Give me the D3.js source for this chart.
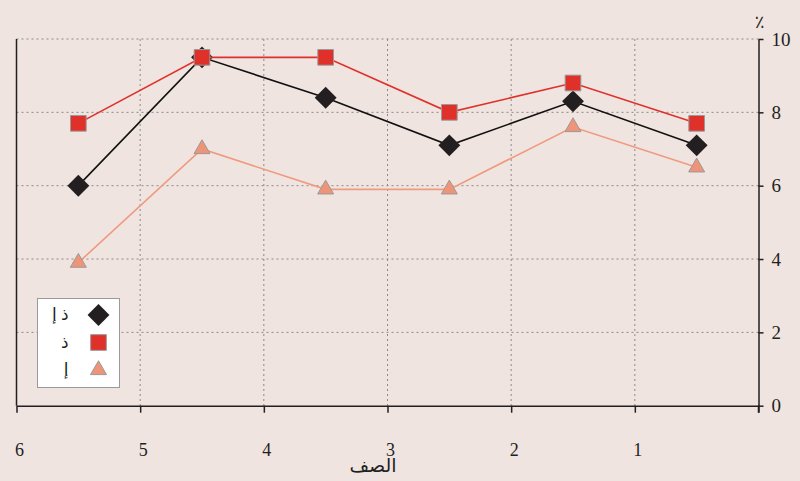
<!DOCTYPE html>
<html>
<head>
<meta charset="utf-8">
<script src="https://cdn.jsdelivr.net/npm/d3@7"></script>
<style>
  body { margin: 0; background: #f0e4e0; }
  svg { display: block; }
  text { font-family: "Liberation Serif", "DejaVu Sans", serif; fill: #231f20; }
</style>
</head>
<body>
<div id="chart"></div>
<script>
// data
var grades = ["6", "5", "4", "3", "2", "1"];
var both = [6.0, 9.5, 8.4, 7.1, 8.3, 7.1];     // ذ إ
var males = [7.7, 9.5, 9.5, 8.0, 8.8, 7.7];    // ذ
var females = [3.9, 7.0, 5.9, 5.9, 7.6, 6.5];  // إ
var yTicks = [0, 2, 4, 6, 8, 10];
var legendLabels = ["ذ إ", "ذ", "إ"];

// dimensions
const W = 800, H = 481;
const plotLeft = 16.5, plotRight = 758.5, plotTop = 39, plotBottom = 405.7;

const svg = d3
  .select("#chart")
  .append("svg")
  .attr("width", W)
  .attr("height", H);

svg.append("rect").attr("width", W).attr("height", H).attr("fill", "#f0e4e0");

const x = d3.scaleBand().domain(grades).range([plotLeft, plotRight]);
const xe = d3.scaleLinear().domain([0, grades.length]).range([plotLeft, plotRight]);
const y = d3.scaleLinear().domain([0, 10]).range([plotBottom, plotTop]);

// grid
svg
  .append("g")
  .selectAll("line")
  .data(yTicks.slice(1))
  .join("line")
  .attr("x1", plotLeft)
  .attr("x2", plotRight)
  .attr("y1", (d) => y(d))
  .attr("y2", (d) => y(d))
  .attr("stroke", "#8a8a8a")
  .attr("stroke-width", 1)
  .attr("stroke-dasharray", "2,3");

svg
  .append("g")
  .selectAll("line")
  .data(d3.range(1, grades.length))
  .join("line")
  .attr("x1", (d) => xe(d))
  .attr("x2", (d) => xe(d))
  .attr("y1", plotTop)
  .attr("y2", plotBottom)
  .attr("stroke", "#8a8a8a")
  .attr("stroke-width", 1)
  .attr("stroke-dasharray", "2,3");

// left border
svg
  .append("line")
  .attr("x1", plotLeft)
  .attr("x2", plotLeft)
  .attr("y1", plotTop)
  .attr("y2", plotBottom)
  .attr("stroke", "#231f20")
  .attr("stroke-width", 1.5);

// bottom axis
const xAxis = svg
  .append("g")
  .attr("transform", `translate(0,${plotBottom})`)
  .call(
    d3.axisBottom(xe)
      .tickValues(d3.range(grades.length + 1))
      .tickFormat("")
      .tickSize(7)
      .tickSizeOuter(0)
  );
xAxis.selectAll("path, line").attr("stroke", "#231f20").attr("stroke-width", 1.5);

svg
  .append("g")
  .selectAll("text")
  .data(grades)
  .join("text")
  .attr("x", (d) => x(d) + 3)
  .attr("y", 456)
  .attr("text-anchor", "middle")
  .attr("font-size", "18px")
  .text((d) => d);

// right axis
const yAxis = svg
  .append("g")
  .attr("transform", `translate(${plotRight},0)`)
  .call(
    d3.axisRight(y)
      .tickValues(yTicks)
      .tickSize(5)
      .tickPadding(8)
      .tickSizeOuter(0)
  );
yAxis.selectAll("path, line").attr("stroke", "#231f20").attr("stroke-width", 1.5);
yAxis
  .selectAll("text")
  .attr("font-family", '"Liberation Serif", serif')
  .attr("font-size", "19px")
  .attr("fill", "#231f20");
svg
  .append("line")
  .attr("x1", plotRight)
  .attr("x2", plotRight)
  .attr("y1", plotBottom)
  .attr("y2", plotBottom + 7)
  .attr("stroke", "#231f20")
  .attr("stroke-width", 1.5);

svg
  .append("text")
  .attr("x", plotRight + 1)
  .attr("y", 28)
  .attr("text-anchor", "middle")
  .attr("font-size", "18px")
  .text("٪");

svg
  .append("text")
  .attr("x", 373)
  .attr("y", 472)
  .attr("text-anchor", "middle")
  .attr("font-size", "19px")
  .text("الصف");

// series
const series = [
  { values: both, line: "#111111", fill: "#231f20", stroke: "none", sym: d3.symbolSquare, size: 240, rot: 45 },
  { values: females, line: "#ef9a7f", fill: "#ee9478", stroke: "#9a9a9a", sym: d3.symbolTriangle, size: 111, rot: 0 },
  { values: males, line: "#e0302a", fill: "#e0302a", stroke: "#9a9a9a", sym: d3.symbolSquare, size: 246, rot: 0 },
];

const line = d3
  .line()
  .x((d, i) => x(grades[i]) + x.bandwidth() / 2)
  .y((d) => y(d));

series.forEach(function (s) {
  svg
    .append("path")
    .datum(s.values)
    .attr("fill", "none")
    .attr("stroke", s.line)
    .attr("stroke-width", 1.6)
    .attr("d", line);

  svg
    .append("g")
    .selectAll("path")
    .data(s.values)
    .join("path")
    .attr("d", d3.symbol().type(s.sym).size(s.size))
    .attr("transform", function (d, i) {
      return `translate(${x(grades[i]) + x.bandwidth() / 2},${y(d)}) rotate(${s.rot})`;
    })
    .attr("fill", s.fill)
    .attr("stroke", s.stroke)
    .attr("stroke-width", 1);
});

// legend
const lg = svg.append("g").attr("transform", "translate(37.5,298.5)");
lg.append("rect")
  .attr("width", 82)
  .attr("height", 89)
  .attr("fill", "#ffffff")
  .attr("stroke", "#9a9a9a")
  .attr("stroke-width", 1);

const legendSeries = [series[0], series[2], series[1]];
legendLabels.forEach(function (lab, i) {
  const s = legendSeries[i];
  const cy = 16.5 + i * 27.5;
  lg.append("path")
    .attr("d", d3.symbol().type(s.sym).size(s.size))
    .attr("transform", `translate(61,${cy}) rotate(${s.rot})`)
    .attr("fill", s.fill)
    .attr("stroke", s.stroke)
    .attr("stroke-width", 1);
  lg.append("text")
    .attr("x", 31)
    .attr("y", cy + 5)
    .attr("text-anchor", "end")
    .attr("font-size", "17px")
    .text(lab);
});
</script>
</body>
</html>
